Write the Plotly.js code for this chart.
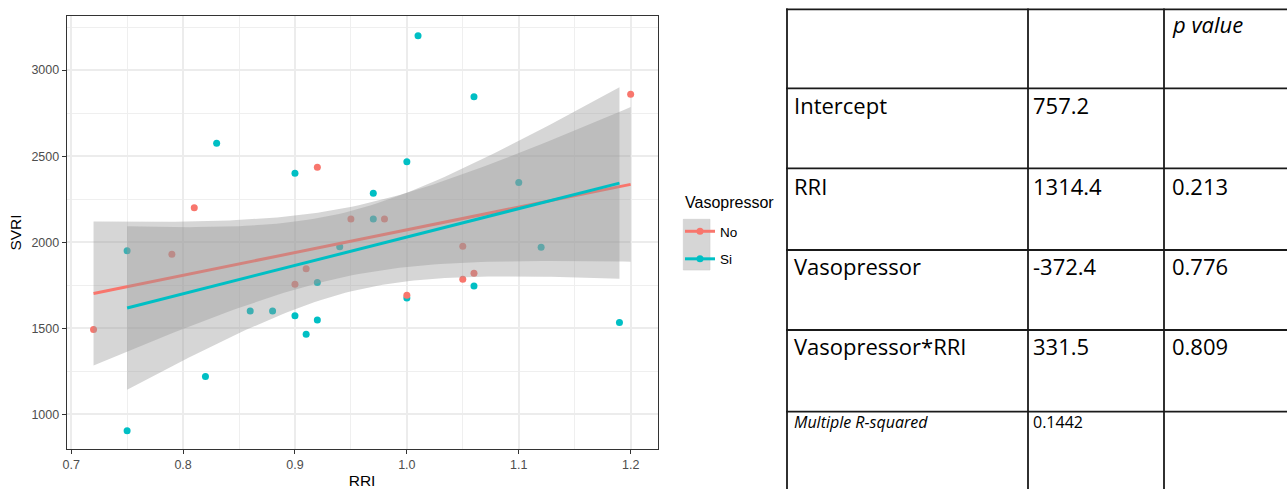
<!DOCTYPE html>
<html>
<head>
<meta charset="utf-8">
<script src="https://cdn.plot.ly/plotly-3.0.1.min.js"></script>
<style>html,body{margin:0;padding:0;background:#fff;}#chart{width:1287px;height:489px;}</style>
</head>
<body>
<div id="chart"></div>
<script>
// ---------- data ----------
const groups = ['No', 'Si'];
const groupColors = ['#F8766D', '#00BFC4'];
const legendTitle = 'Vasopressor';

const noRRI  = [0.72, 0.79, 0.81, 0.90, 0.91, 0.92, 0.95, 0.98, 1.00, 1.05, 1.05, 1.06, 1.20];
const noSVRI = [1492, 1930, 2200, 1755, 1845, 2435, 2135, 2135, 1692, 1977, 1785, 1820, 2860];

const siRRI  = [0.75, 0.75, 0.82, 0.83, 0.86, 0.88, 0.90, 0.90, 0.91, 0.92, 0.92, 0.94, 0.97, 0.97, 1.00, 1.00, 1.01, 1.06, 1.06, 1.10, 1.12, 1.19];
const siSVRI = [1950, 905, 1220, 2575, 1600, 1600, 2400, 1572, 1465, 1765, 1548, 1973, 2285, 2135, 2467, 1676, 3200, 2845, 1746, 2347, 1970, 1533];

const tableRowLabels = ['', 'Intercept', 'RRI', 'Vasopressor', 'Vasopressor*RRI', 'Multiple R-squared'];
const tableEstimates = ['', '757.2', '1314.4', '-372.4', '331.5', '0.1442'];
const tablePValues   = ['p value', '', '0.213', '0.776', '0.809', ''];

// ---------- linear fit with 95% confidence band (as geom_smooth(method="lm")) ----------
function lgamma(z) {
  const g = 7, c = [0.99999999999980993, 676.5203681218851, -1259.1392167224028, 771.32342877765313,
    -176.61502916214059, 12.507343278686905, -0.13857109526572012, 9.9843695780195716e-6, 1.5056327351493116e-7];
  if (z < 0.5) return Math.log(Math.PI / Math.sin(Math.PI * z)) - lgamma(1 - z);
  z -= 1; let x = c[0];
  for (let i = 1; i < g + 2; i++) x += c[i] / (z + i);
  const t = z + g + 0.5;
  return 0.5 * Math.log(2 * Math.PI) + (z + 0.5) * Math.log(t) - t + Math.log(x);
}
function tpdf(t, v) {
  return Math.exp(lgamma((v + 1) / 2) - lgamma(v / 2) - 0.5 * Math.log(v * Math.PI) - (v + 1) / 2 * Math.log(1 + t * t / v));
}
function tHalf(t, v) {
  const n = 400, h = t / n; let s = tpdf(0, v) + tpdf(t, v);
  for (let i = 1; i < n; i++) s += (i % 2 ? 4 : 2) * tpdf(i * h, v);
  return s * h / 3;
}
function tQuant(p, v) {
  let lo = 0, hi = 30;
  for (let k = 0; k < 60; k++) { const m = (lo + hi) / 2; if (0.5 + tHalf(m, v) < p) lo = m; else hi = m; }
  return (lo + hi) / 2;
}
function lmFit(x, y) {
  const n = x.length;
  const mx = x.reduce((a, b) => a + b, 0) / n, my = y.reduce((a, b) => a + b, 0) / n;
  let sxx = 0, sxy = 0;
  for (let i = 0; i < n; i++) { sxx += (x[i] - mx) ** 2; sxy += (x[i] - mx) * (y[i] - my); }
  const b = sxy / sxx, a = my - b * mx;
  let sse = 0;
  for (let i = 0; i < n; i++) sse += (y[i] - a - b * x[i]) ** 2;
  const s2 = sse / (n - 2), tc = tQuant(0.975, n - 2);
  const xmin = Math.min(...x), xmax = Math.max(...x);
  const gx = [], fy = [], lo = [], hi = [];
  for (let k = 0; k < 80; k++) {
    const xv = xmin + (xmax - xmin) * k / 79;
    const f = a + b * xv, se = Math.sqrt(s2 * (1 / n + (xv - mx) ** 2 / sxx));
    gx.push(xv); fy.push(f); lo.push(f - tc * se); hi.push(f + tc * se);
  }
  return { gx, fy, lo, hi };
}

const dataX = [noRRI, siRRI], dataY = [noSVRI, siSVRI];
const fits = [lmFit(noRRI, noSVRI), lmFit(siRRI, siSVRI)];

// ---------- traces ----------
const traces = [];
// points (Si first, No drawn on top)
[1, 0].forEach(g => {
  traces.push({ type: 'scatter', mode: 'markers', x: dataX[g], y: dataY[g], showlegend: false,
    marker: { color: groupColors[g], size: 7 }, hoverinfo: 'x+y' });
});
// ribbons + lines, group by group (as ggplot)
[0, 1].forEach(g => {
  const f = fits[g];
  traces.push({ type: 'scatter', mode: 'lines', x: f.gx, y: f.lo, line: { width: 0, color: 'rgba(0,0,0,0)' }, showlegend: false, hoverinfo: 'skip' });
  traces.push({ type: 'scatter', mode: 'lines', x: f.gx, y: f.hi, fill: 'tonexty', fillcolor: 'rgba(153,153,153,0.4)',
    line: { width: 0, color: 'rgba(0,0,0,0)' }, showlegend: false, hoverinfo: 'skip' });
  traces.push({ type: 'scatter', mode: 'lines', x: f.gx, y: f.fy, line: { width: 3, color: groupColors[g] }, showlegend: false, hoverinfo: 'skip' });
});
// legend entries
groups.forEach((name, g) => {
  traces.push({ type: 'scatter', mode: 'lines+markers', x: [null], y: [null], name: name, legendgroup: name,
    line: { width: 3, color: groupColors[g] }, marker: { size: 7, color: groupColors[g] } });
});

// ---------- layout ----------
const W = 1287, H = 489;
const px = v => v / W, py = v => 1 - v / H;

const shapes = [];
// legend key background
shapes.push({ type: 'rect', xref: 'paper', yref: 'paper', x0: px(683.3), x1: px(710), y0: py(270), y1: py(219.3),
  fillcolor: '#d6d6d6', line: { color: '#cccccc', width: 0.6 }, layer: 'above' });
// table grid
const rowTops = [9.3, 88.3, 168.3, 250, 330, 411.7];
const colLefts = [787, 1028, 1164];
rowTops.forEach(y => shapes.push({ type: 'line', xref: 'paper', yref: 'paper', x0: px(786), x1: px(1287), y0: py(y), y1: py(y),
  line: { color: '#1a1a1a', width: 1.8 } }));
colLefts.forEach(x => shapes.push({ type: 'line', xref: 'paper', yref: 'paper', x0: px(x), x1: px(x), y0: py(rowTops[0] - 0.9), y1: 0,
  line: { color: '#1a1a1a', width: 1.8 } }));

const annotations = [];
const AF = 'Liberation Sans, Arial, sans-serif';
// legend title
annotations.push({ xref: 'paper', yref: 'paper', x: px(682.5), y: py(202), xanchor: 'left', yanchor: 'middle',
  showarrow: false, text: legendTitle, font: { family: AF, size: 16, color: '#000' } });

const textX = [792, 1031, 1170];
const baselines = [33, 113.3, 195, 274.3, 355, 428.3];
const TF = 'Open Sans, Liberation Sans, sans-serif';
tableRowLabels.forEach((lab, r) => {
  const big = r < 5;
  const size = big ? 22 : 16;
  const cells = [lab, tableEstimates[r], tablePValues[r]];
  cells.forEach((txt, c) => {
    if (!txt) return;
    const italic = (r === 0) || (r === 5 && c === 0);
    annotations.push({ xref: 'paper', yref: 'paper', x: px(textX[c]), y: py(baselines[r] - 0.39 * size),
      xanchor: 'left', yanchor: 'middle', showarrow: false, text: txt,
      font: { family: TF, size: size, color: '#000', style: italic ? 'italic' : 'normal' } });
  });
});

const layout = {
  width: W, height: H,
  margin: { l: 0, r: 0, t: 0, b: 0 },
  paper_bgcolor: '#fff', plot_bgcolor: '#fff',
  font: { family: AF, color: '#000' },
  showlegend: true,
  xaxis: {
    domain: [px(66.7), px(657.5)], range: [0.696, 1.224],
    tick0: 0.7, dtick: 0.1, tickformat: '.1f',
    ticks: 'outside', ticklen: 4, tickwidth: 1, tickcolor: '#333',
    tickfont: { family: AF, size: 12.5, color: '#4d4d4d' },
    showgrid: true, gridcolor: '#ececec', gridwidth: 2,
    minor: { tick0: 0.75, dtick: 0.1, showgrid: true, gridcolor: '#efefef', gridwidth: 1, ticks: '' },
    showline: true, mirror: true, linecolor: '#333', linewidth: 1, zeroline: false,
    title: { text: 'RRI', font: { family: AF, size: 15.5, color: '#000' }, standoff: 3 }
  },
  yaxis: {
    domain: [py(449.3), py(15.7)], range: [796.5, 3316],
    tick0: 1000, dtick: 500,
    ticks: 'outside', ticklen: 4, tickwidth: 1, tickcolor: '#333',
    tickfont: { family: AF, size: 12.5, color: '#4d4d4d' },
    showgrid: true, gridcolor: '#ececec', gridwidth: 2,
    minor: { tick0: 1250, dtick: 500, showgrid: true, gridcolor: '#efefef', gridwidth: 1, ticks: '' },
    showline: true, mirror: true, linecolor: '#333', linewidth: 1, zeroline: false,
    title: { text: 'SVRI', font: { family: AF, size: 15.5, color: '#000' }, standoff: 5 }
  },
  legend: {
    x: px(680), y: py(216), xanchor: 'left', yanchor: 'top',
    font: { family: AF, size: 13.5, color: '#000' },
    bgcolor: 'rgba(0,0,0,0)', borderwidth: 0, tracegroupgap: 7, itemwidth: 30
  },
  shapes: shapes,
  annotations: annotations
};

Plotly.newPlot('chart', traces, layout, { displayModeBar: false });
</script>
</body>
</html>
